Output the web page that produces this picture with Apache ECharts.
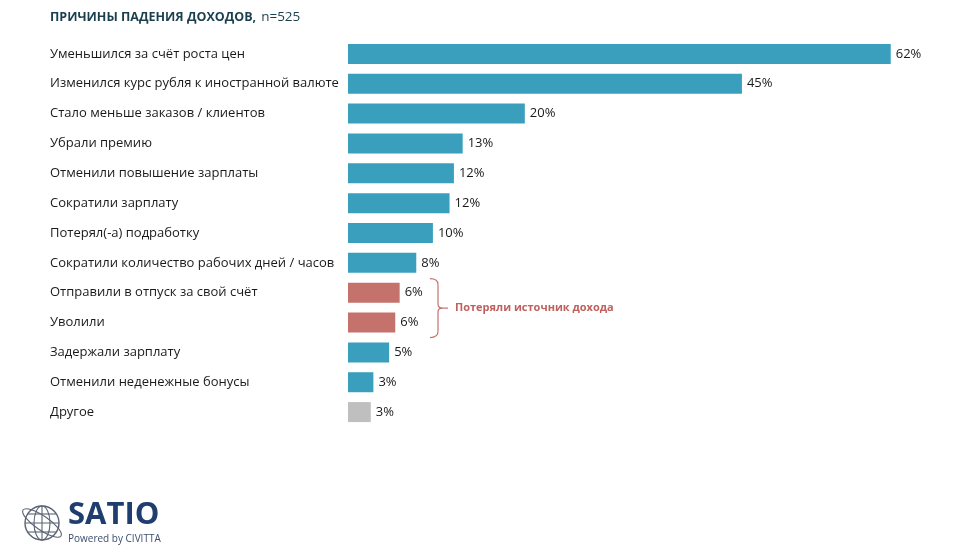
<!DOCTYPE html>
<html>
<head>
<meta charset="utf-8">
<script src="https://cdn.jsdelivr.net/npm/echarts@6/dist/echarts.min.js"></script>
<style>
  html, body { margin: 0; padding: 0; background: #fff; }
  #main { width: 960px; height: 559px; }
</style>
</head>
<body>
<div id="main"></div>
<script>
// причины падения доходов, n=525
const categories = [
  'Уменьшился за счёт роста цен',
  'Изменился курс рубля к иностранной валюте',
  'Стало меньше заказов / клиентов',
  'Убрали премию',
  'Отменили повышение зарплаты',
  'Сократили зарплату',
  'Потерял(-а) подработку',
  'Сократили количество рабочих дней / часов',
  'Отправили в отпуск за свой счёт',
  'Уволили',
  'Задержали зарплату',
  'Отменили неденежные бонусы',
  'Другое'
]
// длина столбцов (как на картинке) и подписи
const values = [62, 45, 20.2, 13.1, 12.1, 11.6, 9.7, 7.8, 5.9, 5.4, 4.7, 2.9, 2.6]
const valueLabels = ['62%', '45%', '20%', '13%', '12%', '12%', '10%', '8%', '6%', '6%', '5%', '3%', '3%']
// группа: 0 - обычные, 1 - потеряли источник дохода, 2 - другое
const groups = [0, 0, 0, 0, 0, 0, 0, 0, 1, 1, 0, 0, 2]
const groupColors = ['#3a9fbc', '#c5716c', '#bfbfbf']
const bracketText = 'Потеряли источник дохода'

const font = '"Open Sans", "Noto Sans", sans-serif'
var chart = echarts.init(document.getElementById('main'), null, { renderer: 'canvas' })

var barData = values.map(function (v, i) {
  return {
    value: v,
    itemStyle: { color: groupColors[groups[i]] },
    label: { formatter: valueLabels[i] }
  }
})

var option = {
  animation: false,
  backgroundColor: '#fff',
  title: {
    text: '{b|ПРИЧИНЫ ПАДЕНИЯ ДОХОДОВ,} {n|n=525}',
    left: 45,
    top: 3,
    textStyle: {
      rich: {
        b: { fontFamily: font, fontSize: 12.5, fontWeight: 'bold', color: '#1b3f4e' },
        n: { fontFamily: font, fontSize: 13.5, fontWeight: 'normal', color: '#1b3f4e' }
      }
    }
  },
  grid: { left: 348, top: 39, width: 569, height: 388, containLabel: false },
  xAxis: {
    type: 'value',
    min: 0,
    max: 65,
    show: false
  },
  yAxis: {
    type: 'category',
    inverse: true,
    data: categories,
    axisLine: { show: false },
    axisTick: { show: false },
    axisLabel: {
      align: 'left',
      margin: 298,
      fontFamily: font,
      fontSize: 13,
      color: '#1a1a1a'
    }
  },
  series: [{
    type: 'bar',
    data: barData,
    barWidth: 20,
    label: {
      show: true,
      position: 'right',
      distance: 5,
      fontFamily: font,
      fontSize: 13,
      color: '#1a1a1a'
    }
  }]
}
chart.setOption(option)

// фигурная скобка и подпись для группы
var yTop = chart.convertToPixel({ yAxisIndex: 0 }, categories[8]) - 14
var yBot = chart.convertToPixel({ yAxisIndex: 0 }, categories[9]) + 15
var yMid = (yTop + yBot) / 2
var bx = 438
var bs = { stroke: '#c5716c', lineWidth: 1.2, fill: 'none' }
function curve(x1, y1, cx, cy, x2, y2) {
  return { type: 'bezierCurve', shape: { x1: x1, y1: y1, cpx1: cx, cpy1: cy, x2: x2, y2: y2 }, style: bs }
}
function seg(x1, y1, x2, y2) {
  return { type: 'line', shape: { x1: x1, y1: y1, x2: x2, y2: y2 }, style: bs }
}
var bracket = { type: 'group', children: [
  curve(bx - 8, yTop, bx, yTop, bx, yTop + 6),
  seg(bx, yTop + 6, bx, yMid - 4),
  curve(bx, yMid - 4, bx, yMid, bx + 4, yMid),
  seg(bx + 4, yMid, bx + 10, yMid),
  curve(bx + 4, yMid, bx, yMid, bx, yMid + 4),
  seg(bx, yMid + 4, bx, yBot - 6),
  curve(bx, yBot - 6, bx, yBot, bx - 8, yBot)
]}

// логотип
var gs = { stroke: '#5a6473', lineWidth: 1.1, fill: 'none' }
var globe = { type: 'group', x: 22, y: 502, children: [
  { type: 'circle', shape: { cx: 20, cy: 21, r: 17 }, style: { stroke: '#5a6473', lineWidth: 1.4, fill: 'none' } },
  { type: 'ellipse', shape: { cx: 20, cy: 21, rx: 8, ry: 17 }, style: gs },
  { type: 'line', shape: { x1: 20, y1: 4, x2: 20, y2: 38 }, style: gs },
  { type: 'line', shape: { x1: 3, y1: 21, x2: 37, y2: 21 }, style: gs },
  { type: 'line', shape: { x1: 6, y1: 12, x2: 34, y2: 12 }, style: gs },
  { type: 'line', shape: { x1: 6, y1: 30, x2: 34, y2: 30 }, style: gs },
  { type: 'ellipse', shape: { cx: 20, cy: 21, rx: 23, ry: 7 }, rotation: -0.6, originX: 20, originY: 21, style: gs }
]}

chart.setOption({
  graphic: [
    bracket,
    { type: 'text', x: bx + 17, y: yMid, style: { text: bracketText, fill: '#c0605c', font: 'bold 11px ' + font, verticalAlign: 'middle' } },
    globe,
    { type: 'text', x: 68, y: 500, style: { text: 'SATIO', fill: '#1f3d6e', font: 'bold 31px ' + font } },
    { type: 'text', x: 68, y: 534, style: { text: 'Powered by CIVITTA', fill: '#3b4e6e', font: '10px ' + font } }
  ]
})
</script>
</body>
</html>
